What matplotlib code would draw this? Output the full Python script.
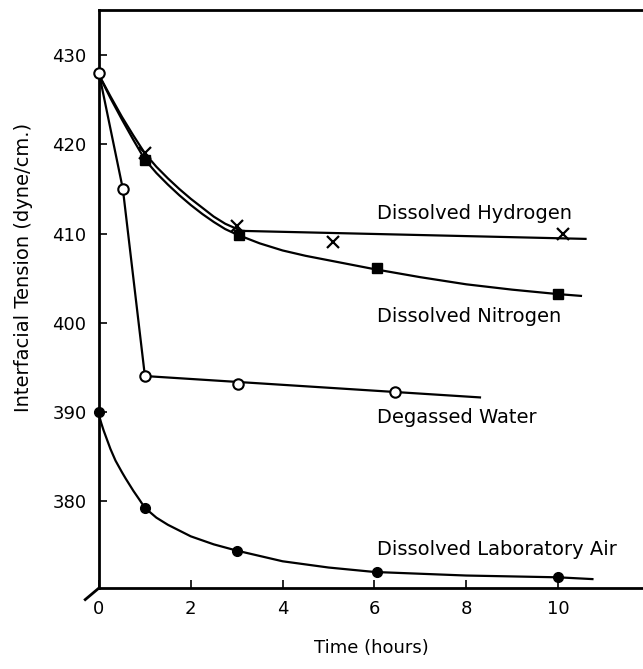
import matplotlib
matplotlib.use('Agg')
import matplotlib.pyplot as plt

# measured points
h2_t = [1.0, 3.0, 5.1, 10.1]
h2_y = [419.0, 410.9, 409.0, 409.9]
n2_t = [1.0, 3.05, 6.05, 10.0]
n2_y = [418.3, 409.8, 406.1, 403.2]
water_t = [0.0, 0.52, 1.0, 3.03, 6.45]
water_y = [428.0, 415.0, 394.0, 393.1, 392.2]
air_t = [0.0, 1.0, 3.0, 6.05, 10.0]
air_y = [390.0, 379.2, 374.4, 372.0, 371.4]

# hand-drawn curves
h2_curve_t = [0.0, 0.25, 0.5, 0.75, 1.0, 1.25, 1.5, 1.75, 2.0, 2.25, 2.5, 2.75, 3.1, 10.6]
h2_curve_y = [427.8, 425.4, 423.1, 421.0, 419.0, 417.5, 416.2, 415.0, 413.9, 412.9, 411.9, 411.1, 410.3, 409.4]
n2_curve_t = [0.0, 0.25, 0.5, 0.75, 1.0, 1.25, 1.5, 1.75, 2.0, 2.25, 2.5, 2.75, 3.0, 3.5,
              4.0, 4.5, 5.0, 5.5, 6.0, 7.0, 8.0, 9.0, 10.0, 10.5]
n2_curve_y = [427.8, 425.2, 422.8, 420.5, 418.3, 416.8, 415.5, 414.3, 413.2, 412.2, 411.3, 410.5,
              409.9, 408.9, 408.1, 407.5, 407.0, 406.5, 406.0, 405.1, 404.3, 403.7, 403.2, 403.0]
water_curve_t = [0.0, 0.52, 1.0, 8.3]
water_curve_y = [428.0, 415.0, 394.0, 391.6]
air_curve_t = [0.0, 0.05, 0.1, 0.15, 0.25, 0.36, 0.5, 0.58, 0.75, 0.87, 1.0, 1.25, 1.5,
               2.0, 2.5, 3.0, 3.5, 4.0, 5.0, 6.0, 7.0, 8.0, 9.0, 10.0, 10.75]
air_curve_y = [389.6, 388.7, 387.9, 387.2, 385.8, 384.5, 383.2, 382.5, 381.1, 380.2, 379.2,
               378.1, 377.3, 376.0, 375.1, 374.4, 373.8, 373.2, 372.5, 372.0, 371.8, 371.6,
               371.5, 371.4, 371.2]

labels = ['Dissolved Hydrogen', 'Dissolved Nitrogen', 'Degassed Water',
          'Dissolved Laboratory Air']
label_y = [412.3, 400.7, 389.3, 374.5]

xticks = [0, 2, 4, 6, 8, 10]
yticks = [380, 390, 400, 410, 420, 430]

plt.rcParams['font.family'] = 'DejaVu Sans'

fig = plt.figure(figsize=(6.43, 6.69), dpi=100)
ax = fig.add_axes([99 / 643, 81 / 669, (643 - 99) / 643, 578 / 669])

lw = 1.6
ax.plot(h2_curve_t, h2_curve_y, color='k', lw=lw)
ax.plot(n2_curve_t, n2_curve_y, color='k', lw=lw)
ax.plot(water_curve_t, water_curve_y, color='k', lw=lw)
ax.plot(air_curve_t, air_curve_y, color='k', lw=lw)

ax.plot(h2_t, h2_y, 'x', color='k', ms=8, mew=1.6, clip_on=False)
ax.plot(n2_t, n2_y, 's', color='k', ms=7.5, clip_on=False)
ax.plot(water_t, water_y, 'o', mfc='white', mec='k', ms=7.5, mew=1.5, clip_on=False, zorder=5)
ax.plot(air_t, air_y, 'o', color='k', ms=7, clip_on=False, zorder=5)

for lab, yy in zip(labels, label_y):
    ax.text(6.05, yy, lab, fontsize=14, va='center', ha='left', clip_on=False)

ax.set_xlim(0, (643 - 99) / 45.9)
ax.set_ylim(370.2, 435.1)
ax.set_xticks(xticks)
ax.set_yticks(yticks)
ax.tick_params(direction='in', length=6, width=1.2, labelsize=13, pad=9)
ax.spines['right'].set_visible(False)
for s in ['left', 'bottom', 'top']:
    ax.spines[s].set_linewidth(2)

# small slash at the origin
ax.plot([-0.3, 0], [368.9, 370.2], color='k', lw=2, clip_on=False)

ax.set_xlabel('Time (hours)', fontsize=13)
ax.xaxis.set_label_coords(272 / 544, -51 / 578)
ax.set_ylabel('Interfacial Tension (dyne/cm.)', fontsize=14)
ax.yaxis.set_label_coords(-66 / 544, 321 / 578)

fig.savefig('out.png', dpi=100)
